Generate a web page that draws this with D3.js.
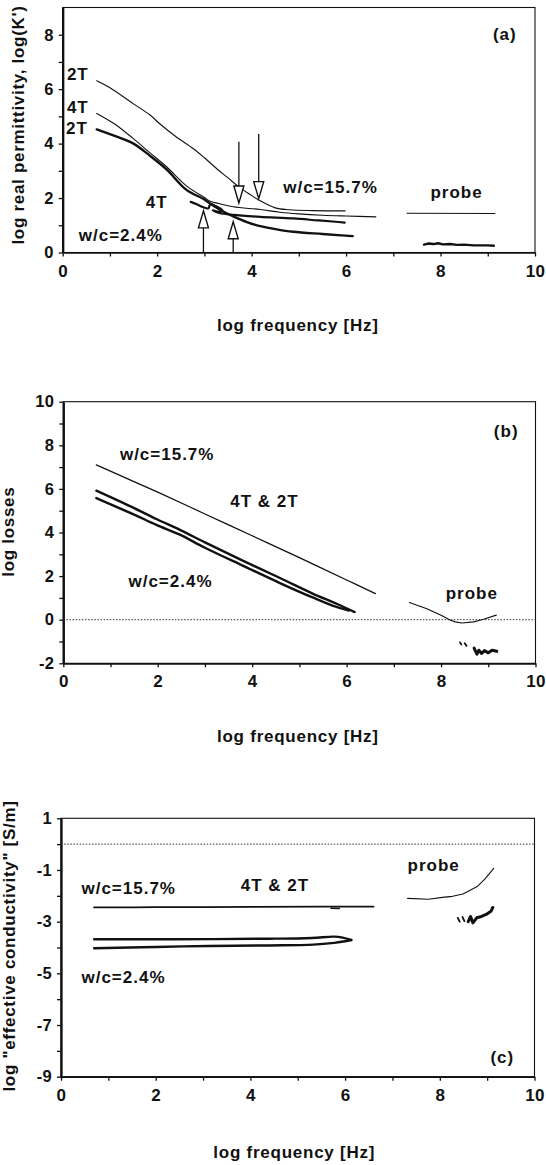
<!DOCTYPE html>
<html><head><meta charset="utf-8">
<script src="https://cdn.jsdelivr.net/npm/d3@7"></script>
<style>
html,body{margin:0;padding:0;background:#fff;}
svg{display:block;}
text{font-family:"Liberation Sans",Arial,Helvetica,sans-serif;font-weight:bold;fill:#111;}
</style></head><body>
<svg id="chart" width="546" height="1165"></svg>
<script>
// ---------------- DATA ----------------
const xTicks = [0,1,2,3,4,5,6,7,8,9,10];
const xTickLabels = [0,2,4,6,8,10];
const xTitle = "log frequency [Hz]";

// Panel (a): log real permittivity
const aYTicks = [0,1,2,3,4,5,6,7,8];
const aYTickLabels = [0,2,4,6,8];
const aTitle = "log real permittivity, log(K')";
const a_wc157_2T = [[0.72,6.31],[1.0,6.05],[1.49,5.47],[1.85,5.05],[2.06,4.72],[2.4,4.25],[2.76,3.82],[3.0,3.48],[3.3,3.02],[3.5,2.74],[3.73,2.41],[3.95,2.15],[4.15,1.93],[4.5,1.64],[4.8,1.57],[5.3,1.54],[5.98,1.53]];
const a_wc157_4T = [[0.72,5.11],[1.1,4.72],[1.49,4.19],[1.85,3.66],[2.2,3.15],[2.62,2.45],[3.0,2.02],[3.12,1.88],[3.3,1.8],[3.61,1.68],[4.18,1.58],[4.6,1.48],[5.0,1.42],[5.5,1.37],[6.0,1.34],[6.63,1.31]];
const a_wc24_2T = [[0.72,4.52],[1.1,4.28],[1.49,4.01],[1.85,3.55],[2.2,3.05],[2.62,2.3],[3.0,1.95],[3.12,1.8],[3.35,1.55],[3.61,1.33],[3.9,1.12],[4.18,0.97],[4.5,0.86],[4.88,0.76],[5.5,0.68],[5.9,0.63],[6.14,0.6]];
const a_wc24_4T = [[2.71,1.86],[2.85,1.76],[2.98,1.66],[3.08,1.62],[3.13,1.78],[3.22,1.72],[3.38,1.55],[3.28,1.5],[3.18,1.55],[3.32,1.45],[3.61,1.38],[4.18,1.31],[4.88,1.25],[5.4,1.18],[5.78,1.13],[5.97,1.1]];
const a_probe_thin = [[7.29,1.44],[9.15,1.43]];
const a_probe_thick = [[7.65,0.29],[7.75,0.33],[7.85,0.31],[7.95,0.34],[8.05,0.3],[8.2,0.31],[8.35,0.28],[8.5,0.29],[8.7,0.26],[9.0,0.26],[9.13,0.25]];
const a_arrowsDown = [{x:3.73, from:4.07, to:1.82},{x:4.15, from:4.35, to:1.98}];
const a_arrowsUp = [{x:2.98, from:0, to:1.53},{x:3.61, from:0, to:1.13}];
const aLabels = [
  {t:"2T", x:0.32, y:6.55},{t:"4T", x:0.32, y:5.34},{t:"2T", x:0.30, y:4.57},
  {t:"4T", x:1.99, y:1.86},{t:"w/c=2.4%", x:1.23, y:0.64},
  {t:"w/c=15.7%", x:5.67, y:2.41},{t:"probe", x:8.34, y:2.23},{t:"(a)", x:9.36, y:8.04}
];

// Panel (b): log losses
const bYTicks = [-2,-1,0,1,2,3,4,5,6,7,8,9,10];
const bYTickLabels = [-2,0,2,4,6,8,10];
const bTitle = "log losses";
const b_wc157 = [[0.7,7.1],[2.0,5.85],[3.0,4.85],[4.0,3.85],[5.0,2.85],[6.0,1.82],[6.61,1.2]];
const b_wc24_upper = [[0.7,5.92],[1.5,5.12],[1.97,4.62],[2.47,4.12],[3.0,3.55],[3.81,2.7],[4.6,1.9],[5.28,1.2],[5.8,0.72],[6.17,0.35]];
const b_wc24_lower = [[0.7,5.58],[1.5,4.82],[1.97,4.35],[2.47,3.9],[3.0,3.3],[3.81,2.47],[4.6,1.67],[5.28,1.02],[5.7,0.65],[6.05,0.42]];
const b_probe_thin = [[7.33,0.79],[7.7,0.5],[8.0,0.2],[8.19,-0.01],[8.3,-0.1],[8.44,-0.15],[8.69,-0.1],[8.9,0.02],[9.17,0.21]];
const b_probe_marks = [[[8.40,-1.04],[8.43,-1.14]],[[8.50,-1.08],[8.54,-1.2]]];
const b_probe_thick = [[8.7,-1.3],[8.76,-1.58],[8.8,-1.4],[8.86,-1.55],[8.92,-1.42],[9.0,-1.52],[9.08,-1.4],[9.18,-1.45]];
const bLabels = [
  {t:"(b)", x:9.38, y:8.67},{t:"w/c=15.7%", x:2.2, y:7.6},{t:"4T & 2T", x:4.26, y:5.46},
  {t:"w/c=2.4%", x:2.27, y:1.79},{t:"probe", x:8.65, y:1.25}
];

// Panel (c): log "effective conductivity"
const cYTicks = [-9,-8,-7,-6,-5,-4,-3,-2,-1,0,1];
const cYTickLabels = [-9,-7,-5,-3,-1,1];
const cTitle = "log \"effective conductivity\" [S/m]";
const c_wc157 = [[0.7,-2.45],[2.0,-2.44],[4.0,-2.43],[5.5,-2.42],[6.6,-2.42]];
const c_wc157_seg = [[5.7,-2.48],[5.88,-2.49]];
const c_wc24_upper = [[0.7,-3.68],[2.4,-3.68],[4.4,-3.66],[5.3,-3.63],[5.77,-3.58],[5.95,-3.62],[6.13,-3.71]];
const c_wc24_lower = [[0.7,-4.03],[2.0,-3.98],[3.13,-3.94],[4.4,-3.92],[5.33,-3.89],[5.77,-3.82],[6.0,-3.76],[6.13,-3.71]];
const c_probe_thin = [[7.32,-2.1],[7.76,-2.13],[8.1,-2.05],[8.27,-2.02],[8.49,-1.93],[8.79,-1.64],[8.95,-1.35],[9.14,-0.94]];
const c_probe_marks = [[[8.38,-2.85],[8.42,-3.0]],[[8.48,-2.82],[8.52,-2.98]]];
const c_probe_thick = [[8.6,-3.0],[8.65,-2.8],[8.7,-3.05],[8.78,-2.85],[8.88,-2.8],[8.98,-2.72],[9.08,-2.6],[9.12,-2.45]];
const cLabels = [
  {t:"w/c=15.7%", x:1.43, y:-1.71},{t:"4T & 2T", x:4.52, y:-1.58},{t:"probe", x:7.87, y:-0.81},
  {t:"w/c=2.4%", x:1.32, y:-5.13},{t:"(c)", x:9.32, y:-8.23}
];

// ---------------- DRAWING ----------------
const svg = d3.select("#chart");
svg.append("rect").attr("width",546).attr("height",1165).attr("fill","#fff");
const INK = "#111";

function panel(cfg){
  const x = d3.scaleLinear().domain([0,10]).range([cfg.left,cfg.right]);
  const y = d3.scaleLinear().domain(cfg.yDomain).range([cfg.bottom,cfg.top]);
  const g = svg.append("g");
  g.append("rect").attr("x",cfg.left).attr("y",cfg.top)
    .attr("width",cfg.right-cfg.left).attr("height",cfg.bottom-cfg.top)
    .attr("fill","none").attr("stroke",INK).attr("stroke-width",1.1);
  const xa = g.append("g").attr("transform",`translate(0,${cfg.bottom})`)
    .call(d3.axisBottom(x).tickValues(xTicks).tickSize(4).tickSizeOuter(0).tickPadding(8)
      .tickFormat(d=> xTickLabels.includes(d) ? String(d) : ""));
  xa.select(".domain").attr("stroke",INK).attr("stroke-width",1.7);
  xa.selectAll(".tick line").attr("stroke",INK).attr("stroke-width",1.3);
  xa.selectAll("text").style("font-size","17px").style("letter-spacing","0.4px").attr("fill",INK);
  const ya = g.append("g").attr("transform",`translate(${cfg.left},0)`)
    .call(d3.axisLeft(y).tickValues(cfg.yTicks).tickSize(4).tickSizeOuter(0).tickPadding(5)
      .tickFormat(d=> cfg.yTickLabels.includes(d) ? String(d) : ""));
  ya.select(".domain").attr("stroke",INK).attr("stroke-width",2.3);
  ya.selectAll(".tick line").attr("stroke",INK).attr("stroke-width",1.3);
  ya.selectAll("text").style("font-size","16.5px").style("letter-spacing","0.3px").attr("fill",INK);
  g.append("text").attr("x",x(5)+cfg.xtDx).attr("y",cfg.bottom+cfg.xtDy)
    .attr("text-anchor","middle").style("font-size","17px").style("letter-spacing","0.75px")
    .text(xTitle);
  g.append("text").attr("transform",`translate(${cfg.ytX},${cfg.ytY}) rotate(-90)`)
    .attr("text-anchor","middle").style("font-size","17px").style("letter-spacing","0.7px")
    .text(cfg.yTitle);
  return {x,y,g};
}

function drawLine(p, data, w, curve){
  const line = d3.line().x(d=>p.x(d[0])).y(d=>p.y(d[1])).curve(curve || d3.curveCatmullRom.alpha(0.5));
  p.g.append("path").datum(data).attr("d",line).attr("fill","none")
    .attr("stroke",INK).attr("stroke-width",w).attr("stroke-linejoin","round").attr("stroke-linecap","round");
}
function dotted(p, yv){
  p.g.append("line").attr("x1",p.x(0)).attr("x2",p.x(10)).attr("y1",p.y(yv)).attr("y2",p.y(yv))
    .attr("stroke","#333").attr("stroke-width",1).attr("stroke-dasharray","1.5,1.6");
}
function labels(p, arr){
  p.g.selectAll(null).data(arr).enter().append("text")
    .attr("x",d=>p.x(d.x)).attr("y",d=>p.y(d.y)).attr("dy","0.36em")
    .attr("text-anchor","middle").style("font-size","17px").style("letter-spacing","1px")
    .text(d=>d.t);
}
function arrow(p, a, down){
  const hl = 17, hw = 5;
  const tx = p.x(a.x), ty = p.y(a.to), fy = p.y(a.from);
  const by = down ? ty - hl : ty + hl;
  p.g.append("line").attr("x1",tx).attr("x2",tx).attr("y1",fy).attr("y2",by)
    .attr("stroke",INK).attr("stroke-width",1.3);
  p.g.append("path").attr("d",`M${tx},${ty}L${tx-hw},${by}L${tx+hw},${by}Z`)
    .attr("fill","#fff").attr("stroke",INK).attr("stroke-width",1.4).attr("stroke-linejoin","miter");
}

// Panel (a)
const pa = panel({left:62.7,right:535,top:7.5,bottom:252.5,yDomain:[0,9],
  yTicks:aYTicks,yTickLabels:aYTickLabels,yTitle:aTitle,ytX:24,ytY:125,xtDx:-1,xtDy:78.5});
drawLine(pa, a_wc157_2T, 1.1);
drawLine(pa, a_wc157_4T, 1.1);
drawLine(pa, a_wc24_2T, 2.4);
drawLine(pa, a_wc24_4T, 2.2);
drawLine(pa, a_probe_thin, 1.1, d3.curveLinear);
drawLine(pa, a_probe_thick, 2.4, d3.curveLinear);
a_arrowsDown.forEach(a=>arrow(pa,a,true));
a_arrowsUp.forEach(a=>arrow(pa,a,false));
labels(pa, aLabels);

// Panel (b)
const pb = panel({left:63.3,right:535.5,top:401.7,bottom:663.3,yDomain:[-2,10],
  yTicks:bYTicks,yTickLabels:bYTickLabels,yTitle:bTitle,ytX:14,ytY:531.7,xtDx:-1.5,xtDy:78.4});
dotted(pb, 0);
drawLine(pb, b_wc157, 1.3);
drawLine(pb, b_wc24_upper, 2.4);
drawLine(pb, b_wc24_lower, 2.4);
drawLine(pb, b_probe_thin, 1.1, d3.curveLinear);
b_probe_marks.forEach(m=>drawLine(pb, m, 1.8, d3.curveLinear));
drawLine(pb, b_probe_thick, 3, d3.curveLinear);
labels(pb, bLabels);

// Panel (c)
const pc = panel({left:61,right:534.5,top:818.3,bottom:1076.7,yDomain:[-9,1],
  yTicks:cYTicks,yTickLabels:cYTickLabels,yTitle:cTitle,ytX:15,ytY:946,xtDx:-3.5,xtDy:81.6});
dotted(pc, 0);
drawLine(pc, c_wc157, 1.8);
drawLine(pc, c_wc157_seg, 1.4, d3.curveLinear);
drawLine(pc, c_wc24_upper, 2.4);
drawLine(pc, c_wc24_lower, 2.4);
drawLine(pc, c_probe_thin, 1.1, d3.curveLinear);
c_probe_marks.forEach(m=>drawLine(pc, m, 1.8, d3.curveLinear));
drawLine(pc, c_probe_thick, 3, d3.curveLinear);
labels(pc, cLabels);
</script>
</body></html>
